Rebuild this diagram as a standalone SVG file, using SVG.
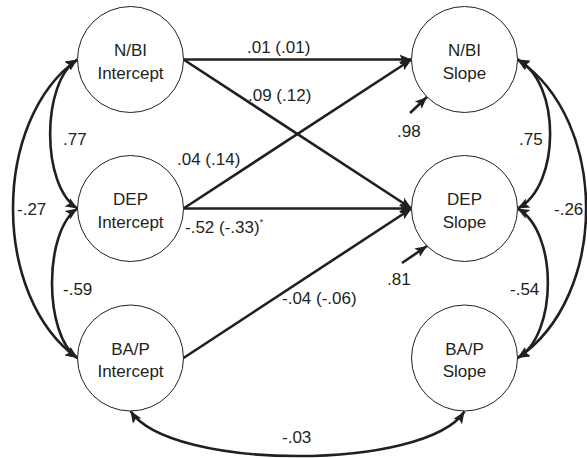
<svg xmlns="http://www.w3.org/2000/svg" width="587" height="458" viewBox="0 0 587 458">
  <style>
    .node circle { fill: #ffffff; stroke: #231f20; stroke-width: 1; }
    .node text { font-family: "Liberation Sans", Arial, Helvetica, sans-serif; font-size: 17px; fill: #231f20; text-anchor: middle; }
    .path { fill: none; stroke: #231f20; stroke-width: 2.6; }
    .one { marker-end: url(#head); }
    .two { marker-start: url(#head); marker-end: url(#head); }
    .lbl { font-family: "Liberation Sans", Arial, Helvetica, sans-serif; font-size: 17px; fill: #231f20; }
    .sup { font-size: 9px; }
  </style>
  <defs>
    <marker id="head" markerUnits="userSpaceOnUse" markerWidth="14" markerHeight="12" refX="12" refY="5" orient="auto-start-reverse" viewBox="0 0 14 10">
      <path d="M0,0 L12,5 L0,10 L2.5,5 z" fill="#231f20"/>
    </marker>
  </defs>

  <rect width="587" height="458" fill="#ffffff"/>

  <!-- connectors -->
  <g id="connectors">
    <!-- regression paths, intercepts to slopes -->
    <path class="path one" d="M183.5,59.5 L411.5,59.5"/>
    <path class="path one" d="M183.5,59.5 L411.5,208.5"/>
    <path class="path one" d="M183.5,208.5 L411.5,59.5"/>
    <path class="path one" d="M183.5,208.5 L411.5,208.5"/>
    <path class="path one" d="M183.5,358 L411.5,208.5"/>
    <!-- residuals on the slopes -->
    <path class="path one" d="M410,113 L427,97"/>
    <path class="path one" d="M402,263 L427,246"/>
    <!-- covariances among intercepts -->
    <path class="path two" d="M77.5,59.5 C41,82 41,186 77.5,208.5"/>
    <path class="path two" d="M77.5,208.5 C43.5,231 43.5,335 77.5,358"/>
    <path class="path two" d="M77.5,59.5 C-8.5,120 -8.5,297 77.5,358"/>
    <!-- covariances among slopes -->
    <path class="path two" d="M517.5,59.5 C561,82 561,186 517.5,208.5"/>
    <path class="path two" d="M517.5,208.5 C558,231 558,335 517.5,358"/>
    <path class="path two" d="M517.5,59.5 C609,120 609,297 517.5,358"/>
    <!-- BA/P intercept with BA/P slope -->
    <path class="path two" d="M130.5,411 C170,471 425,471 464.5,411.5"/>
  </g>

  <!-- nodes -->
  <g id="nbi-intercept" class="node">
    <circle cx="130.5" cy="59.5" r="53"/>
    <text x="130.5" y="56">N/BI</text>
    <text x="130.5" y="78.5">Intercept</text>
  </g>
  <g id="dep-intercept" class="node">
    <circle cx="130.5" cy="208.5" r="53"/>
    <text x="130.5" y="205">DEP</text>
    <text x="130.5" y="227.5">Intercept</text>
  </g>
  <g id="bap-intercept" class="node">
    <circle cx="130.5" cy="358" r="53"/>
    <text x="130.5" y="354.5">BA/P</text>
    <text x="130.5" y="377">Intercept</text>
  </g>
  <g id="nbi-slope" class="node">
    <circle cx="464.5" cy="59.5" r="53"/>
    <text x="464.5" y="56">N/BI</text>
    <text x="464.5" y="78.5">Slope</text>
  </g>
  <g id="dep-slope" class="node">
    <circle cx="464.5" cy="208.5" r="53"/>
    <text x="464.5" y="205">DEP</text>
    <text x="464.5" y="227.5">Slope</text>
  </g>
  <g id="bap-slope" class="node">
    <circle cx="464.5" cy="358" r="53"/>
    <text x="464.5" y="354.5">BA/P</text>
    <text x="464.5" y="377">Slope</text>
  </g>

  <!-- coefficient labels -->
  <g id="labels">
    <text class="lbl" x="247" y="53">.01 (.01)</text>
    <text class="lbl" x="248" y="101">.09 (.12)</text>
    <text class="lbl" x="177" y="165">.04 (.14)</text>
    <text class="lbl" x="185" y="232.5">-.52 (-.33)<tspan class="sup" dy="-8">*</tspan></text>
    <text class="lbl" x="282" y="304">-.04 (-.06)</text>
    <text class="lbl" x="63" y="145">.77</text>
    <text class="lbl" x="17" y="215">-.27</text>
    <text class="lbl" x="63" y="294.5">-.59</text>
    <text class="lbl" x="397" y="136.5">.98</text>
    <text class="lbl" x="387" y="284.5">.81</text>
    <text class="lbl" x="519" y="145">.75</text>
    <text class="lbl" x="554" y="215">-.26</text>
    <text class="lbl" x="510" y="294.5">-.54</text>
    <text class="lbl" x="282" y="443">-.03</text>
  </g>
</svg>
